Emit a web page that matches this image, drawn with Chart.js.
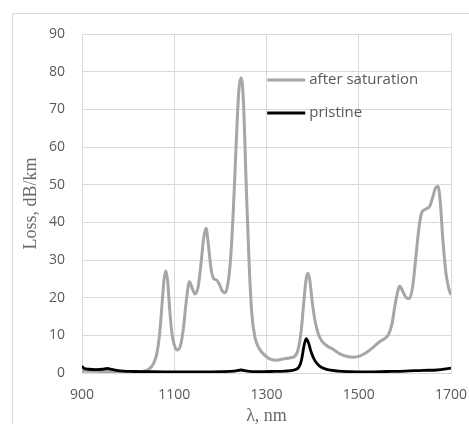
<!DOCTYPE html>
<html>
<head>
<meta charset="utf-8">
<script src="https://cdn.jsdelivr.net/npm/chart.js@4/dist/chart.umd.min.js"></script>
<style>
  html, body { margin: 0; padding: 0; background: #fff; overflow: hidden; }
  #wrap { position: relative; width: 469px; height: 424px; }
  #frame { position: absolute; left: 12px; top: 13px; width: 520px; height: 480px; border: 1px solid #d9d9d9; }
  #chart { position: absolute; left: 0; top: 0; }
</style>
</head>
<body>
<div id="wrap">
  <div id="frame"></div>
  <canvas id="chart" width="469" height="424"></canvas>
</div>
<script>
// wavelength grid and values for "after saturation"
const satWl = [900, 950, 1000, 1030, 1045, 1055, 1062, 1068, 1074, 1078, 1082, 1086, 1090, 1095, 1100, 1107, 1114, 1120, 1126, 1133,
  1139, 1145, 1152, 1158, 1164, 1169, 1174, 1180, 1186, 1192, 1198, 1204, 1210, 1216, 1222, 1228, 1234, 1240, 1245, 1250,
  1256, 1262, 1268, 1275, 1282, 1290, 1300, 1310, 1322, 1335, 1350, 1360, 1368, 1375, 1381, 1386, 1390, 1394, 1399, 1405,
  1412, 1420, 1430, 1444, 1460, 1475, 1488, 1500, 1515, 1531, 1545, 1557, 1565, 1572, 1580, 1589, 1596, 1603, 1610, 1617,
  1624, 1630, 1636, 1645, 1654, 1660, 1666, 1672, 1677, 1682, 1689, 1695, 1700];
const satLoss = [0.5, 0.4, 0.3, 0.4, 1.0, 2.5, 5, 10, 19, 25, 27.1, 24, 17, 10.5, 7.5, 6.1, 7.5, 12, 19, 24.2,
  22.5, 21, 23, 29, 36, 38.4, 34, 27.5, 25, 24.7, 23.5, 21.8, 21.3, 23.5, 30, 43, 60, 75, 78.4, 72,
  50, 30, 16, 9.5, 7, 5.5, 4.3, 3.6, 3.4, 3.7, 4.0, 4.3, 6, 11, 19, 25, 26.5, 24.5, 19, 14,
  10.5, 8.5, 7.3, 6.3, 5, 4.4, 4.2, 4.4, 5.3, 6.8, 8.3, 9.2, 10.3, 13, 19, 23, 21.5, 20, 19.8, 23,
  31, 38, 42.4, 43.5, 44.3, 46.5, 49, 49.6, 45, 36, 26.5, 22.5, 20.7];

// "pristine" fibre
const priWl = [900, 905, 915, 930, 945, 955, 962, 975, 990, 1010, 1040, 1080, 1120, 1160, 1200, 1230, 1245, 1258, 1280, 1310,
  1340, 1360, 1370, 1376, 1381, 1386, 1391, 1397, 1404, 1412, 1422, 1435, 1455, 1480, 1520, 1560, 1600, 1640, 1670, 1690, 1700];
const priLoss = [1.8, 1.2, 1.0, 0.9, 1.0, 1.2, 1.0, 0.7, 0.5, 0.4, 0.35, 0.3, 0.3, 0.3, 0.35, 0.5, 0.8, 0.5, 0.35, 0.4,
  0.5, 0.8, 1.5, 3.5, 7, 9.1, 8, 5.5, 3.5, 2.2, 1.3, 0.8, 0.5, 0.35, 0.3, 0.4, 0.5, 0.7, 0.8, 1.1, 1.3];

const xTicks = [900, 1100, 1300, 1500, 1700];
const yTicks = [0, 10, 20, 30, 40, 50, 60, 70, 80, 90];

const toPoints = (xs, ys) => xs.map((x, i) => ({ x: x, y: ys[i] }));

// legend drawn inside the plot, top right
const innerLegend = {
  id: "innerLegend",
  afterDatasetsDraw(chart) {
    const { ctx, chartArea } = chart;
    const w = chartArea.right - chartArea.left;
    const h = chartArea.bottom - chartArea.top;
    const x0 = chartArea.left + w * 0.502;
    const x1 = chartArea.left + w * 0.605;
    ctx.save();
    ctx.font = "15px 'Open Sans'";
    ctx.textBaseline = "middle";
    ctx.fillStyle = "#595959";
    chart.data.datasets.forEach((ds, i) => {
      const y = chartArea.top + h * (0.136 + i * 0.097);
      ctx.strokeStyle = ds.borderColor;
      ctx.lineWidth = ds.borderWidth;
      ctx.beginPath();
      ctx.moveTo(x0, y);
      ctx.lineTo(x1, y);
      ctx.stroke();
      ctx.fillText(ds.label, x1 + 4, y);
    });
    ctx.restore();
  }
};

new Chart(document.getElementById("chart"), {
  type: "line",
  data: {
    datasets: [
      {
        label: "after saturation",
        data: toPoints(satWl, satLoss),
        borderColor: "#a6a6a6",
        borderWidth: 3,
        pointRadius: 0,
        cubicInterpolationMode: "monotone",
        order: 1,
      },
      {
        label: "pristine",
        data: toPoints(priWl, priLoss),
        borderColor: "#000000",
        borderWidth: 2.8,
        pointRadius: 0,
        cubicInterpolationMode: "monotone",
        order: 0,
      },
    ],
  },
  options: {
    responsive: false,
    animation: false,
    layout: { padding: { top: 34, right: 18, left: 0, bottom: 0 } },
    plugins: { legend: { display: false }, tooltip: { enabled: false } },
    scales: {
      x: {
        type: "linear",
        min: 900,
        max: 1700,
        afterBuildTicks: (axis) => { axis.ticks = xTicks.map((v) => ({ value: v })); },
        afterFit: (axis) => { axis.height = 51; axis.paddingLeft = 0; axis.paddingRight = 0; },
        ticks: { color: "#595959", font: { family: "'Open Sans'", size: 14 }, padding: 14, callback: (v) => String(v) },
        grid: { color: "#d9d9d9", drawTicks: false },
        border: { color: "#d9d9d9" },
        title: {
          display: true,
          text: "λ, nm",
          color: "#6a6a6a",
          font: { family: "'Liberation Serif'", size: 18 },
          padding: { top: 0, bottom: -3 },
        },
      },
      y: {
        min: 0,
        max: 90,
        afterBuildTicks: (axis) => { axis.ticks = yTicks.map((v) => ({ value: v })); },
        afterFit: (axis) => { axis.width = 82; axis.paddingTop = 0; axis.paddingBottom = 0; },
        ticks: { color: "#595959", font: { family: "'Open Sans'", size: 14 }, padding: 17 },
        grid: { color: "#d9d9d9", drawTicks: false },
        border: { color: "#d9d9d9" },
        title: {
          display: true,
          text: "Loss, dB/km",
          color: "#6a6a6a",
          font: { family: "'Liberation Serif'", size: 18 },
          padding: { top: 20, bottom: 0 },
        },
      },
    },
  },
  plugins: [innerLegend],
});
</script>
</body>
</html>
